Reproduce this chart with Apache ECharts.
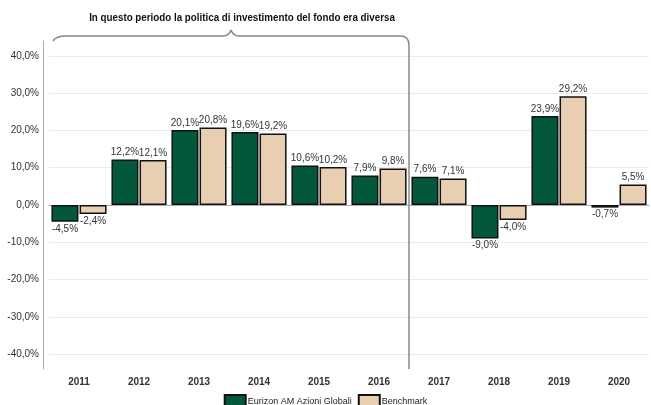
<!DOCTYPE html>
<html>
<head>
<meta charset="utf-8">
<script src="https://cdn.jsdelivr.net/npm/echarts@6/dist/echarts.min.js"></script>
<style>
html,body{margin:0;padding:0;background:#fff;}
#chart{width:651px;height:405px;}
</style>
</head>
<body>
<div id="chart"></div>
<script>
var categories = ['2011','2012','2013','2014','2015','2016','2017','2018','2019','2020'];
var fundValues = [-4.5, 12.2, 20.1, 19.6, 10.6, 7.9, 7.6, -9.0, 23.9, -0.7];
var benchValues = [-2.4, 12.1, 20.8, 19.2, 10.2, 9.8, 7.1, -4.0, 29.2, 5.5];
var yTicks = [-40, -30, -20, -10, 0, 10, 20, 30, 40];
var seriesNames = ['Eurizon AM Azioni Globali', 'Benchmark'];
var noteText = 'In questo periodo la politica di investimento del fondo era diversa';

function fmt(v){ return v.toFixed(1).replace('.', ',') + '%'; }
function toItems(arr){
  return arr.map(function(v){
    return { value: v, label: { position: v < 0 ? 'bottom' : 'top' } };
  });
}

var chart = echarts.init(document.getElementById('chart'), null, {renderer:'canvas'});
var baseFont = 'Liberation Sans, Arial, sans-serif';
var labelCfg = {
  show: true, fontSize: 10, color: '#333', fontFamily: baseFont, distance: 2,
  formatter: function(p){ return fmt(p.value); }
};
chart.setOption({
  animation: false,
  backgroundColor: '#fff',
  grid: { left: 49, right: 2, top: 41, bottom: 36, containLabel: false },
  legend: {
    data: seriesNames, top: 394, left: 'center', padding: 0,
    icon: 'rect', itemWidth: 21, itemHeight: 13, itemGap: 6,
    textStyle: { fontSize: 9, color: '#222', fontFamily: baseFont, padding: [0,0,0,-3] }
  },
  xAxis: {
    type: 'category', data: categories,
    axisLine: { lineStyle: { color: '#aaa', width: 1 } },
    axisTick: { show: false },
    axisLabel: { fontSize: 10, fontWeight: 'bold', color: '#333', margin: 8, fontFamily: baseFont }
  },
  yAxis: {
    type: 'value', min: -44, max: 44, minInterval: 10, maxInterval: 10, offset: 6,
    axisLine: { show: true, lineStyle: { color: '#aaa', width: 1 } },
    axisTick: { show: false },
    splitLine: { show: true, showMinLine: false, showMaxLine: false, lineStyle: { color: '#ececec', width: 1 } },
    axisLabel: {
      customValues: yTicks, fontSize: 10, color: '#333', margin: 4, fontFamily: baseFont,
      formatter: function(v){ return fmt(v); }
    }
  },
  series: [
    { name: seriesNames[0], type: 'bar', data: toItems(fundValues), barWidth: 27, barGap: '4%',
      itemStyle: { color: '#03573a', borderColor: '#111', borderWidth: 1.5 }, label: labelCfg },
    { name: seriesNames[1], type: 'bar', data: toItems(benchValues), barWidth: 27,
      itemStyle: { color: '#e8cfb2', borderColor: '#111', borderWidth: 1.5 }, label: labelCfg }
  ]
});

// annotation bracket + divider, positioned from the axes
var x2016 = chart.convertToPixel({xAxisIndex:0}, '2016');
var x2017 = chart.convertToPixel({xAxisIndex:0}, '2017');
var x2011 = chart.convertToPixel({xAxisIndex:0}, '2011');
var dx = (x2016 + x2017) / 2;
var yTop = chart.convertToPixel({yAxisIndex:0}, 44);
var yBot = chart.convertToPixel({yAxisIndex:0}, -44);
var lx = x2011 - 26;
var by = yTop - 5;
var mid = (lx + dx) / 2;
var st = { stroke: '#888', lineWidth: 1.5, fill: null };
function bz(x1,y1,cx,cy,x2,y2){ return { type:'bezierCurve', shape:{x1:x1,y1:y1,cpx1:cx,cpy1:cy,x2:x2,y2:y2}, style: st, z: 10 }; }
function ln(x1,y1,x2,y2){ return { type:'line', shape:{x1:x1,y1:y1,x2:x2,y2:y2}, style: st, z: 10 }; }
chart.setOption({
  graphic: [
    bz(lx, yTop, lx+3, by, lx+13, by),
    ln(lx+13, by, mid-8, by),
    bz(mid-8, by, mid-2, by, mid, by-6),
    bz(mid, by-6, mid+2, by, mid+8, by),
    ln(mid+8, by, dx-9, by),
    bz(dx-9, by, dx, by, dx, by+9),
    ln(dx, by+9, dx, yBot),
    { type: 'text', x: mid + 11, y: 18, scaleX: 0.89, style: { text: noteText, fill: '#111',
      font: 'bold 11px "Liberation Sans", Arial, sans-serif',
      align: 'center', verticalAlign: 'middle' }, z: 10 }
  ]
});
</script>
</body>
</html>
